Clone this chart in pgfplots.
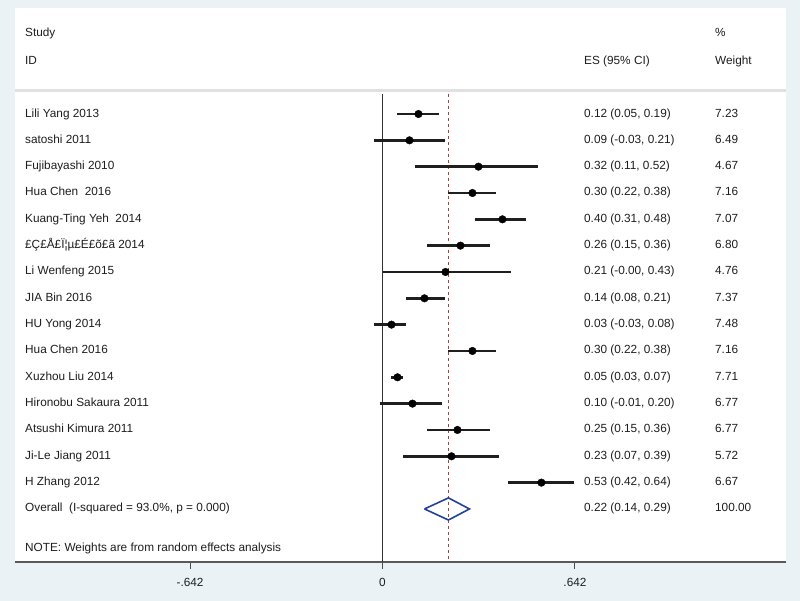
\documentclass[border=0pt]{standalone}
\usepackage{pgfplots}
\pgfplotsset{compat=1.18}
\usepackage{pgfplotstable}
\usepackage{fontspec}
\setmainfont{Liberation Sans}

\definecolor{bgc}{RGB}{234,242,245}
\definecolor{txt}{RGB}{30,30,30}
\definecolor{refred}{RGB}{180,60,50}
\definecolor{diablue}{RGB}{35,65,150}

\tikzset{lab/.style={anchor=west, inner sep=0pt, text height=8.6pt, text depth=2.6pt,
    font=\fontsize{11.8}{14}\selectfont, text=txt}}

% study rows: effect size and 95% CI
\pgfplotstableread{
row es lo hi
1 0.12 0.05 0.19
2 0.09 -0.03 0.21
3 0.32 0.11 0.52
4 0.30 0.22 0.38
5 0.40 0.31 0.48
6 0.26 0.15 0.36
7 0.21 -0.00 0.43
8 0.14 0.08 0.21
9 0.03 -0.03 0.08
10 0.30 0.22 0.38
11 0.05 0.03 0.07
12 0.10 -0.01 0.20
13 0.25 0.15 0.36
14 0.23 0.07 0.39
15 0.53 0.42 0.64
}\studies

\begin{document}
\fontsize{11.8}{14}\selectfont
\begin{tikzpicture}
\fill[bgc] (-15pt,-39pt) rectangle (785pt,562pt);
\begin{axis}[
    scale only axis,
    width=771pt, height=554pt,
    xmin=-1.2258, xmax=1.3459,
    ymin=-3.026, ymax=18.015,
    y dir=reverse,
    clip=false,
    axis background/.style={fill=white},
    axis x line*=bottom,
    axis y line=none,
    x axis line style={draw=black!65, line width=1.8pt},
    xtick={-0.642,0,0.642},
    xticklabels={-.642,0,.642},
    tick align=outside,
    major tick length=7pt,
    x tick style={draw=black!70, line width=1pt},
    xticklabel style={font=\fontsize{11.8}{14}\selectfont, text=txt, yshift=-5pt},
    ytick=\empty,
]
% header band separator
\addplot[draw=black!12, line width=3pt] coordinates {(-1.2258,0.12)(1.3459,0.12)};
% null line and overall line
\addplot[draw=black!80, line width=1.8pt] coordinates {(0,0.24)(0,18.015)};
\addplot[draw=refred, line width=1pt, dash pattern=on 3pt off 3pt] coordinates {(0.22,0.24)(0.22,18.015)};

% confidence intervals and point estimates
\addplot[only marks, mark=*, mark size=3.8pt, black,
    error bars/.cd, x dir=both, x explicit, error mark=none,
    error bar style={line width=2.6pt, black!88}]
    table[x=es, y=row, x error minus expr=\thisrow{es}-\thisrow{lo},
          x error plus expr=\thisrow{hi}-\thisrow{es}] {\studies};

% overall diamond
\addplot[draw=diablue, line width=1.6pt] coordinates {(0.14,16)(0.22,15.58)(0.29,16)(0.22,16.42)(0.14,16)};

% header
\node[lab] at (axis cs:-1.1925,-2.04) {Study};
\node[lab] at (axis cs:-1.1925,-0.975) {ID};
\node[lab] at (axis cs:0.672,-0.975) {ES (95\% CI)};
\node[lab] at (axis cs:1.109,-2.04) {\%};
\node[lab] at (axis cs:1.109,-0.975) {Weight};

% study labels
\node[lab] at (axis cs:-1.1925,1) {Lili Yang 2013};
\node[lab] at (axis cs:-1.1925,2) {satoshi 2011};
\node[lab] at (axis cs:-1.1925,3) {Fujibayashi 2010};
\node[lab] at (axis cs:-1.1925,4) {Hua Chen~ 2016};
\node[lab] at (axis cs:-1.1925,5) {Kuang-Ting Yeh~ 2014};
\node[lab] at (axis cs:-1.1925,6) {£Ç£Å£Ï¦µ£É£õ£ã 2014};
\node[lab] at (axis cs:-1.1925,7) {Li Wenfeng 2015};
\node[lab] at (axis cs:-1.1925,8) {JIA Bin 2016};
\node[lab] at (axis cs:-1.1925,9) {HU Yong 2014};
\node[lab] at (axis cs:-1.1925,10) {Hua Chen 2016};
\node[lab] at (axis cs:-1.1925,11) {Xuzhou Liu 2014};
\node[lab] at (axis cs:-1.1925,12) {Hironobu Sakaura 2011};
\node[lab] at (axis cs:-1.1925,13) {Atsushi Kimura 2011};
\node[lab] at (axis cs:-1.1925,14) {Ji-Le Jiang 2011};
\node[lab] at (axis cs:-1.1925,15) {H Zhang 2012};
\node[lab] at (axis cs:-1.1925,16) {Overall~ (I-squared = 93.0\%, p = 0.000)};
\node[lab] at (axis cs:-1.1925,17.52) {NOTE: Weights are from random effects analysis};

% ES column
\node[lab] at (axis cs:0.672,1) {0.12 (0.05, 0.19)};
\node[lab] at (axis cs:0.672,2) {0.09 (-0.03, 0.21)};
\node[lab] at (axis cs:0.672,3) {0.32 (0.11, 0.52)};
\node[lab] at (axis cs:0.672,4) {0.30 (0.22, 0.38)};
\node[lab] at (axis cs:0.672,5) {0.40 (0.31, 0.48)};
\node[lab] at (axis cs:0.672,6) {0.26 (0.15, 0.36)};
\node[lab] at (axis cs:0.672,7) {0.21 (-0.00, 0.43)};
\node[lab] at (axis cs:0.672,8) {0.14 (0.08, 0.21)};
\node[lab] at (axis cs:0.672,9) {0.03 (-0.03, 0.08)};
\node[lab] at (axis cs:0.672,10) {0.30 (0.22, 0.38)};
\node[lab] at (axis cs:0.672,11) {0.05 (0.03, 0.07)};
\node[lab] at (axis cs:0.672,12) {0.10 (-0.01, 0.20)};
\node[lab] at (axis cs:0.672,13) {0.25 (0.15, 0.36)};
\node[lab] at (axis cs:0.672,14) {0.23 (0.07, 0.39)};
\node[lab] at (axis cs:0.672,15) {0.53 (0.42, 0.64)};
\node[lab] at (axis cs:0.672,16) {0.22 (0.14, 0.29)};

% weight column
\node[lab] at (axis cs:1.109,1) {7.23};
\node[lab] at (axis cs:1.109,2) {6.49};
\node[lab] at (axis cs:1.109,3) {4.67};
\node[lab] at (axis cs:1.109,4) {7.16};
\node[lab] at (axis cs:1.109,5) {7.07};
\node[lab] at (axis cs:1.109,6) {6.80};
\node[lab] at (axis cs:1.109,7) {4.76};
\node[lab] at (axis cs:1.109,8) {7.37};
\node[lab] at (axis cs:1.109,9) {7.48};
\node[lab] at (axis cs:1.109,10) {7.16};
\node[lab] at (axis cs:1.109,11) {7.71};
\node[lab] at (axis cs:1.109,12) {6.77};
\node[lab] at (axis cs:1.109,13) {6.77};
\node[lab] at (axis cs:1.109,14) {5.72};
\node[lab] at (axis cs:1.109,15) {6.67};
\node[lab] at (axis cs:1.109,16) {100.00};
\end{axis}
\end{tikzpicture}
\end{document}
